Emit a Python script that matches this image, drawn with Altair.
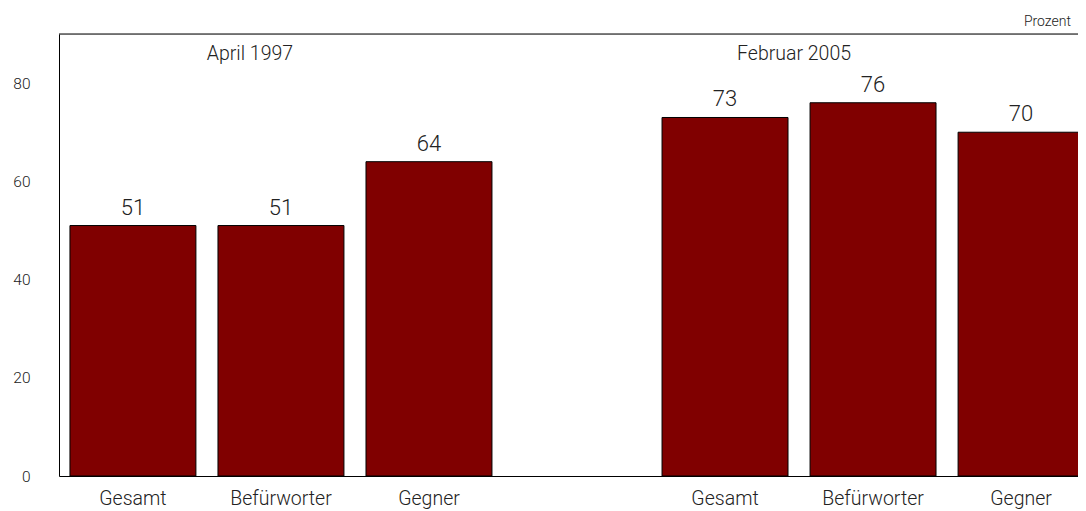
import altair as alt
import pandas as pd

groups = ["April 1997", "April 1997", "April 1997", "Februar 2005", "Februar 2005", "Februar 2005"]
labels = ["Gesamt", "Befürworter", "Gegner", "Gesamt", "Befürworter", "Gegner"]
values = [51, 51, 64, 73, 76, 70]
slot_keys = ["Gesamt|a", "Befürworter|a", "Gegner|a", " |gap", "Gesamt|b", "Befürworter|b", "Gegner|b"]
bar_keys = ["Gesamt|a", "Befürworter|a", "Gegner|a", "Gesamt|b", "Befürworter|b", "Gegner|b"]

group_titles = ["April 1997", "Februar 2005"]
group_anchor = ["Befürworter|a", "Befürworter|b"]
unit_label = ["Prozent"]

df = pd.DataFrame({"slot": bar_keys, "group": groups, "label": labels, "value": values})
gdf = pd.DataFrame({"slot": group_anchor, "title": group_titles})
udf = pd.DataFrame({"unit": unit_label})

FONT = "Roboto"
W, H = 1019, 442
TXT = "#222"

xscale = alt.Scale(domain=slot_keys, range=[0, 1036], paddingInner=0.149, paddingOuter=0.074)
yscale = alt.Scale(domain=[0, 90], nice=False)

x = alt.X("slot:N", scale=xscale, sort=slot_keys, title=None,
          axis=alt.Axis(labelExpr="split(datum.label, '|')[0]", labelAngle=0, ticks=False,
                        domain=True, domainColor="#000", domainWidth=1,
                        labelFontSize=19.5, labelColor=TXT, labelFont=FONT, labelFontWeight=300,
                        labelPadding=13))
y = alt.Y("value:Q", scale=yscale, title=None,
          axis=alt.Axis(values=[0, 20, 40, 60, 80], ticks=False, grid=False, domain=True,
                        domainColor="#000", domainWidth=1, labelFontSize=15.5, labelColor=TXT,
                        labelFont=FONT, labelFontWeight=300, labelPadding=29))

bars = alt.Chart(df).mark_bar(color="#800000", stroke="#000", strokeWidth=1).encode(x=x, y=y)

nums = alt.Chart(df).mark_text(baseline="alphabetic", dy=-11, fontSize=22, color=TXT,
                               font=FONT, fontWeight=300).encode(
    x=alt.X("slot:N", scale=xscale, sort=slot_keys),
    y=alt.Y("value:Q", scale=yscale),
    text="value:Q")

g1 = alt.Chart(gdf[gdf.title == "April 1997"]).mark_text(
    baseline="alphabetic", fontSize=19.5, color=TXT, font=FONT, fontWeight=300, dx=-31).encode(
    x=alt.X("slot:N", scale=xscale, sort=slot_keys), y=alt.value(26), text="title:N")
g2 = alt.Chart(gdf[gdf.title == "Februar 2005"]).mark_text(
    baseline="alphabetic", fontSize=19.5, color=TXT, font=FONT, fontWeight=300, dx=-79).encode(
    x=alt.X("slot:N", scale=xscale, sort=slot_keys), y=alt.value(26), text="title:N")

top_line = alt.Chart(udf).mark_rule(color="#000", strokeWidth=1).encode(
    x=alt.value(0), x2=alt.value(W), y=alt.value(0))

unit = alt.Chart(udf).mark_text(align="right", baseline="alphabetic", fontSize=14, color=TXT,
                                font=FONT, fontWeight=300).encode(
    x=alt.value(1012), y=alt.value(-8), text="unit:N")

chart = alt.layer(bars, nums, g1, g2, top_line, unit).properties(
    width=W, height=H,
    autosize=alt.AutoSizeParams(type="none"),
    padding={"left": 51, "top": 26, "right": 0, "bottom": 35},
).configure_view(stroke=None).configure(background="white")

chart.save("out.html", embed_options={"renderer": "svg", "actions": False})
